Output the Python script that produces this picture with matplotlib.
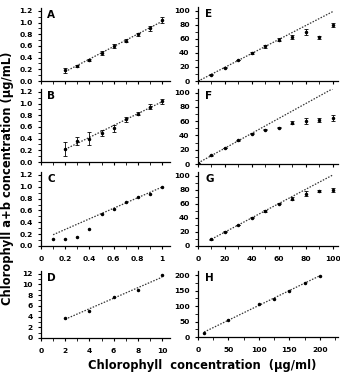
import numpy as np
import matplotlib
matplotlib.use("Agg")
import matplotlib.pyplot as plt
from matplotlib.ticker import MultipleLocator, FormatStrFormatter, FuncFormatter

# ---- data ----
A_x = [0.2, 0.3, 0.4, 0.5, 0.6, 0.7, 0.8, 0.9, 1.0]
A_y = [0.18, 0.26, 0.36, 0.48, 0.60, 0.69, 0.80, 0.90, 1.04]
A_err = [0.05, 0.02, 0.02, 0.03, 0.03, 0.03, 0.03, 0.04, 0.05]

B_x = [0.2, 0.3, 0.4, 0.5, 0.6, 0.7, 0.8, 0.9, 1.0]
B_y = [0.23, 0.36, 0.40, 0.50, 0.58, 0.73, 0.83, 0.95, 1.04]
B_err = [0.12, 0.07, 0.11, 0.05, 0.06, 0.04, 0.03, 0.05, 0.04]

C_x = [0.1, 0.2, 0.3, 0.4, 0.5, 0.6, 0.7, 0.8, 0.9, 1.0]
C_y = [0.11, 0.12, 0.15, 0.28, 0.54, 0.63, 0.75, 0.83, 0.88, 1.00]

D_x = [2, 4, 6, 8, 10]
D_y = [3.8, 5.1, 7.6, 8.9, 11.7]

E_x = [0, 10, 20, 30, 40, 50, 60, 70, 80, 90, 100]
E_y = [0, 9, 19, 30, 39.5, 49, 58.6, 62, 69.5, 62, 79]
E_err = [0, 0.5, 0.5, 0.5, 1, 1.5, 2, 3, 4, 2, 3]

F_x = [0, 10, 20, 30, 40, 50, 60, 70, 80, 90, 100]
F_y = [1, 12, 22.4, 33, 42.5, 48, 51, 58, 60, 62, 64]
F_err = [0, 0.5, 0.5, 0.5, 1, 0.5, 1, 2, 4, 3, 4]

G_x = [10, 20, 30, 40, 50, 60, 70, 80, 90, 100]
G_y = [9.4, 20.2, 29.6, 40.4, 49.8, 60.2, 67.2, 74.3, 78, 80]
G_err = [0.5, 0.5, 0.5, 0.5, 1, 0.5, 2, 4, 1, 3]

H_x = [10, 50, 100, 125, 150, 175, 200]
H_y = [14, 56, 105, 124, 149, 173, 198]

W, H = 340, 372
fig = plt.figure(figsize=(W / 100, H / 100), dpi=100)
plt.rcParams['font.family'] = ['DejaVu Sans']

def px_axes(left, top, right, bottom):
    return fig.add_axes([left / W, 1 - bottom / H, (right - left) / W, (bottom - top) / H])

TICK_FS = 5.4

def style(ax, xlim, ylim, xmaj, xmin, ymaj, ymin, yfmt, xlabels, xfmt=None):
    ax.set_xlim(*xlim)
    ax.set_ylim(*ylim)
    for s in ('top', 'right'):
        ax.spines[s].set_visible(False)
    for s in ('left', 'bottom'):
        ax.spines[s].set_linewidth(0.9)
    ax.xaxis.set_major_locator(MultipleLocator(xmaj))
    ax.xaxis.set_minor_locator(MultipleLocator(xmin))
    ax.yaxis.set_major_locator(MultipleLocator(ymaj))
    ax.yaxis.set_minor_locator(MultipleLocator(ymin))
    ax.yaxis.set_major_formatter(yfmt)
    if xfmt is not None:
        ax.xaxis.set_major_formatter(xfmt)
    ax.tick_params(which='major', direction='out', length=2.5, width=0.8,
                   labelsize=TICK_FS)
    ax.tick_params(axis='y', which='major', pad=3.5)
    ax.tick_params(axis='x', which='major', pad=4.5)
    ax.tick_params(which='minor', direction='out', length=2.0, width=0.6)
    if not xlabels:
        ax.tick_params(axis='x', labelbottom=False)
    for lab in ax.get_xticklabels() + ax.get_yticklabels():
        lab.set_fontweight('bold')
    ax.patch.set_alpha(0)

def trend(ax, x, y, fit_mask_fn, x0, x1):
    x = np.asarray(x, float)
    y = np.asarray(y, float)
    m = fit_mask_fn(x)
    k, b = np.polyfit(x[m], y[m], 1)
    xs = np.array([x0, x1])
    ax.plot(xs, k * xs + b, linestyle=(0, (1.2, 1.2)), color='#333333', lw=0.9, zorder=1)

def points(ax, x, y, err=None):
    if err is None:
        ax.plot(x, y, 'o', ms=1.5, color='black', zorder=3)
    else:
        ax.errorbar(x, y, yerr=err, fmt='o', ms=1.5, color='black', ecolor='black',
                    elinewidth=0.6, capsize=1.6, capthick=0.6, zorder=3)

def letter(ax, t):
    ax.text(0.05, 0.97, t, transform=ax.transAxes, fontsize=7.5, fontweight='bold',
            va='top', ha='left')

f1 = FormatStrFormatter('%.1f')
f0 = FormatStrFormatter('%d')
fgen = FuncFormatter(lambda v, p: ('%g' % round(v, 2)))

L0, L1 = 41, 170
R0, R1 = 198, 338

# Left column
axA = px_axes(L0, 8, L1, 81)
style(axA, (0, 1.066), (0, 1.25), 0.2, 0.1, 0.2, 0.1, f1, False)
trend(axA, A_x, A_y, lambda x: x > -1, A_x[0], A_x[-1])
points(axA, A_x, A_y, A_err)
letter(axA, 'A')

axB = px_axes(L0, 89, L1, 162)
style(axB, (0, 1.066), (0, 1.25), 0.2, 0.1, 0.2, 0.1, f1, False)
trend(axB, B_x, B_y, lambda x: x > -1, B_x[0], B_x[-1])
points(axB, B_x, B_y, B_err)
letter(axB, 'B')

axC = px_axes(L0, 172, L1, 246)
style(axC, (0, 1.066), (0, 1.25), 0.2, 0.1, 0.2, 0.1, f1, True, fgen)
trend(axC, C_x, C_y, lambda x: x >= 0.5, C_x[0], C_x[-1])
points(axC, C_x, C_y)
letter(axC, 'C')

axD = px_axes(L0, 271, L1, 338)
style(axD, (0, 10.66), (0, 12.5), 2, 1, 2, 1, f0, True, f0)
trend(axD, D_x, D_y, lambda x: x > -1, D_x[0], D_x[-1])
points(axD, D_x, D_y)
letter(axD, 'D')

# Right column
axE = px_axes(R0, 7, R1, 81)
style(axE, (0, 104), (0, 105), 20, 10, 20, 10, f0, False)
trend(axE, E_x, E_y, lambda x: x <= 60, 0, 100)
points(axE, E_x, E_y, E_err)
letter(axE, 'E')

axF = px_axes(R0, 89, R1, 164)
style(axF, (0, 104), (0, 105), 20, 10, 20, 10, f0, False)
trend(axF, F_x, F_y, lambda x: x <= 40, 0, 100)
points(axF, F_x, F_y, F_err)
letter(axF, 'F')

axG = px_axes(R0, 172, R1, 246)
style(axG, (0, 104), (0, 105), 20, 10, 20, 10, f0, True, f0)
trend(axG, G_x, G_y, lambda x: x <= 60, G_x[0], 100)
points(axG, G_x, G_y, G_err)
letter(axG, 'G')

axH = px_axes(R0, 271, R1, 337)
style(axH, (0, 230), (0, 213), 50, 25, 50, 25, f0, True, f0)
trend(axH, H_x, H_y, lambda x: x > -1, H_x[0], H_x[-1])
points(axH, H_x, H_y)
letter(axH, 'H')

fig.text(8 / W, 1 - 178 / H, 'Chlorophyll a+b concentration (µg/mL)', rotation=90,
         ha='center', va='center', fontsize=8.3, fontweight='bold')
fig.text(202 / W, 1 - 365 / H, 'Chlorophyll  concentration  (µg/ml)',
         ha='center', va='center', fontsize=8.3, fontweight='bold')

fig.savefig('out.png', dpi=100)
